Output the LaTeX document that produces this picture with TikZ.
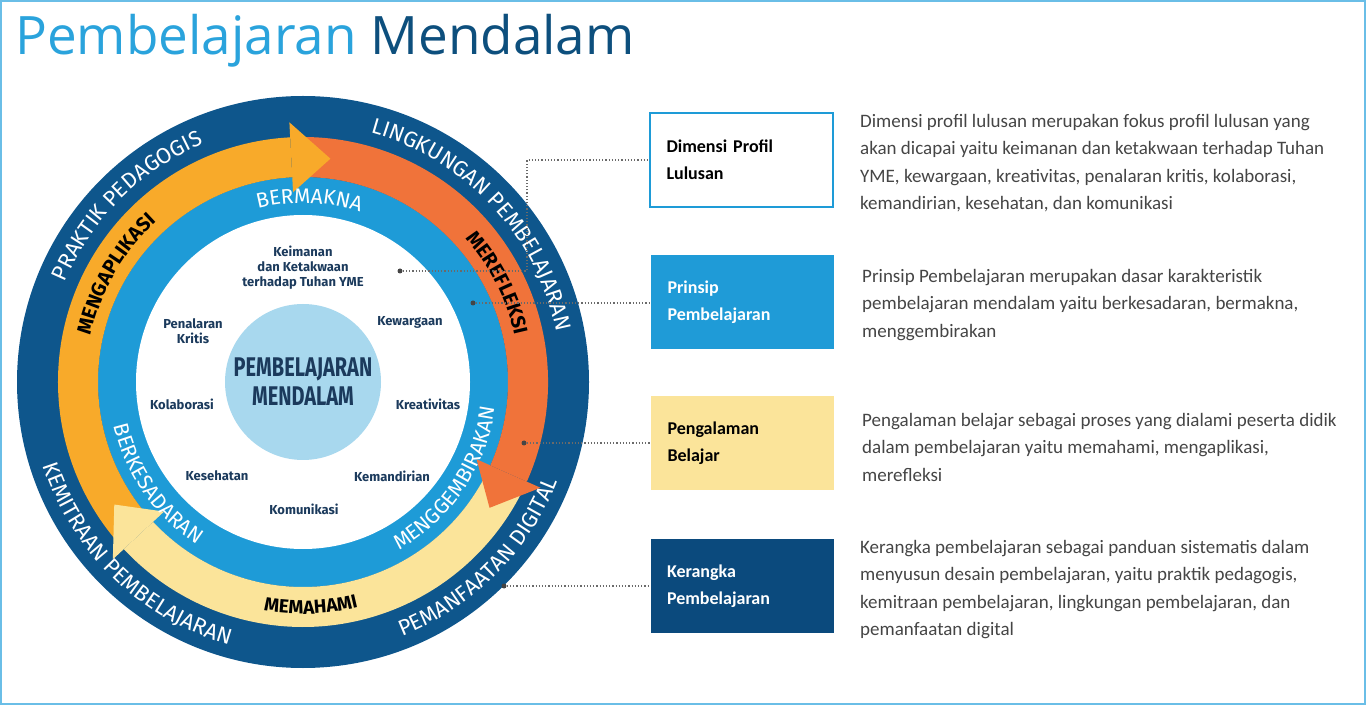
\documentclass[tikz,border=0pt]{standalone}
\usepackage{fontspec}
\setmainfont{Carlito}
\newfontfamily\ringfont{Fira Sans}
\newfontfamily\condfont{Fira Sans}[FakeStretch=0.74]
\newfontfamily\titlefont{Open Sans}
\usetikzlibrary{decorations.text,calc}
\definecolor{ringdark}{HTML}{0E568C}
\definecolor{ringmid}{HTML}{1E9BD7}
\definecolor{corelight}{HTML}{A8D8EE}
\definecolor{arrowgold}{HTML}{F8AA2A}
\definecolor{arroworange}{HTML}{F0733A}
\definecolor{arrowpale}{HTML}{FBE49A}
\definecolor{inktext}{HTML}{1B3A5C}
\definecolor{greytext}{HTML}{454545}
\definecolor{titleblue}{HTML}{2AA3DC}
\definecolor{titledark}{HTML}{0D4F7D}
\definecolor{boxblue}{HTML}{1F9BD7}
\definecolor{boxdark}{HTML}{0B4A7D}
% arrow body and head on the band between r=205 and r=245
\newcommand\bandbody[3]{\fill[#1] (#2:205) arc (#2:#3:205) -- (#3:245) arc (#3:#2:245) -- cycle;}
\newcommand\bandhead[3]{\fill[#1] (#2:190) -- (#2:260) -- (#3:225) -- cycle;}
\newcommand\ringtext[5]{\path[decorate,decoration={text along path,text align=center,
  text={|#5|#4}}] (#2:#1) arc (#2:#3:#1);}
\begin{document}
\begin{tikzpicture}[x=1pt,y=1pt,
    item/.style={font=\ringfont\fontsize{13}{15}\selectfont\bfseries,text=inktext,align=center},
    infobox/.style={minimum width=183pt,minimum height=94pt,text width=150pt,align=left,
      font=\bfseries\fontsize{18}{27}\selectfont},
    info/.style={anchor=north west,align=left,text=greytext,inner sep=0pt,
      font=\fontsize{19}{27.5}\selectfont},
    link/.style={dotted,line width=1.2pt,color=greytext!80},
    pin/.style={circle,fill=greytext,inner sep=0pt,minimum size=5pt}]
\useasboundingbox (0,0) rectangle (1366,705);
\draw[titleblue!70,line width=1.5pt] (1,1) rectangle (1365,704);
\node[anchor=base west,inner sep=0pt,font=\titlefont\fontsize{53}{56}\selectfont] (title) at (15,650)
  {\color{titleblue}Pembelajaran \color{titledark}Mendalam};

\begin{scope}[shift={(303,323)}]
  \fill[ringdark] (0,0) circle (286);
  \fill[ringmid] (0,0) circle (205);
  \fill[white] (0,0) circle (167);
  \fill[corelight] (0,0) circle (78);
  % three arrows
  \bandbody{arrowgold}{222}{93}
  \bandbody{arroworange}{92}{-24}
  \bandbody{arrowpale}{-25}{-137}
  \bandhead{arrowgold}{93}{83}
  \bandhead{arroworange}{-24}{-34}
  \bandhead{arrowpale}{-137}{-147}
  % outer ring
  \ringtext{258}{178}{92}{PRAKTIK PEDAGOGIS}{\color{white}\ringfont\fontsize{22}{22}\selectfont}
  \ringtext{258}{88}{-2}{LINGKUNGAN PEMBELAJARAN}{\color{white}\ringfont\fontsize{22}{22}\selectfont}
  \ringtext{273}{180}{272}{KEMITRAAN PEMBELAJARAN}{\color{white}\ringfont\fontsize{22}{22}\selectfont}
  \ringtext{273}{270}{360}{PEMANFAATAN DIGITAL}{\color{white}\ringfont\fontsize{22}{22}\selectfont}
  % arrow band
  \ringtext{217}{190}{110}{MENGAPLIKASI}{\color{black}\ringfont\bfseries\fontsize{20}{20}\selectfont}
  \ringtext{217}{55}{-1}{MEREFLEKSI}{\color{black}\ringfont\bfseries\fontsize{20}{20}\selectfont}
  \ringtext{232}{250}{294}{MEMAHAMI}{\color{black}\ringfont\bfseries\fontsize{19}{19}\selectfont}
  % middle ring
  \ringtext{179}{125}{51}{BERMAKNA}{\color{white}\ringfont\fontsize{21}{21}\selectfont}
  \ringtext{194}{168}{262}{BERKESADARAN}{\color{white}\ringfont\fontsize{21}{21}\selectfont}
  \ringtext{194}{278}{374}{MENGGEMBIRAKAN}{\color{white}\ringfont\fontsize{21}{21}\selectfont}
\end{scope}

\node[font=\condfont\bfseries\fontsize{27}{29}\selectfont,text=inktext,align=center] (core) at (303,323)
  {PEMBELAJARAN\\MENDALAM};
\node[item] (iman) at (303,437) {Keimanan\\dan Ketakwaan\\terhadap Tuhan YME};
\node[item] (nalar) at (193,374) {Penalaran\\Kritis};
\node[item] (warga) at (410,383) {Kewargaan};
\node[item] (kolab) at (182,301) {Kolaborasi};
\node[item] (kreatif) at (428,301) {Kreativitas};
\node[item] (sehat) at (217,229) {Kesehatan};
\node[item] (mandiri) at (392,229) {Kemandirian};
\node[item] (komun) at (304,196) {Komunikasi};

\node[infobox,draw=ringmid,line width=1.8pt,fill=white,text=black] (profil) at (741.5,545) {Dimensi Profil\\Lulusan};
\node[infobox,fill=boxblue,text=white] (prinsip) at (742.5,403) {Prinsip\\Pembelajaran};
\node[infobox,fill=arrowpale,text=black] (alaman) at (742.5,262) {Pengalaman\\Belajar};
\node[infobox,fill=boxdark,text=white] (kerangka) at (742,119) {Kerangka\\Pembelajaran};

\node[pin] (d1) at (400,434) {};
\node[pin] (d2) at (473,402) {};
\node[pin] (d3) at (524,262) {};
\node[pin] (d4) at (504,119) {};
\coordinate (k1) at (527,434);
\coordinate (k2) at (527,545);
\draw[link] (d1) -- (k1) -- (k2) -- (profil.west);
\draw[link] (d2) -- (prinsip.west |- d2);
\draw[link] (d3) -- (alaman.west);
\draw[link] (d4) -- (kerangka.west);

\node[info] (t1) at (860,591) {Dimensi profil lulusan merupakan fokus profil lulusan yang\\akan dicapai yaitu keimanan dan ketakwaan terhadap Tuhan\\YME, kewargaan, kreativitas, penalaran kritis, kolaborasi,\\kemandirian, kesehatan, dan komunikasi};
\node[info] (t2) at (862,436) {Prinsip Pembelajaran merupakan dasar karakteristik\\pembelajaran mendalam yaitu berkesadaran, bermakna,\\menggembirakan};
\node[info] (t3) at (862,292) {Pengalaman belajar sebagai proses yang dialami peserta didik\\dalam pembelajaran yaitu memahami, mengaplikasi,\\merefleksi};
\node[info] (t4) at (860,165) {Kerangka pembelajaran sebagai panduan sistematis dalam\\menyusun desain pembelajaran, yaitu praktik pedagogis,\\kemitraan pembelajaran, lingkungan pembelajaran, dan\\pemanfaatan digital};
\end{tikzpicture}
\end{document}
